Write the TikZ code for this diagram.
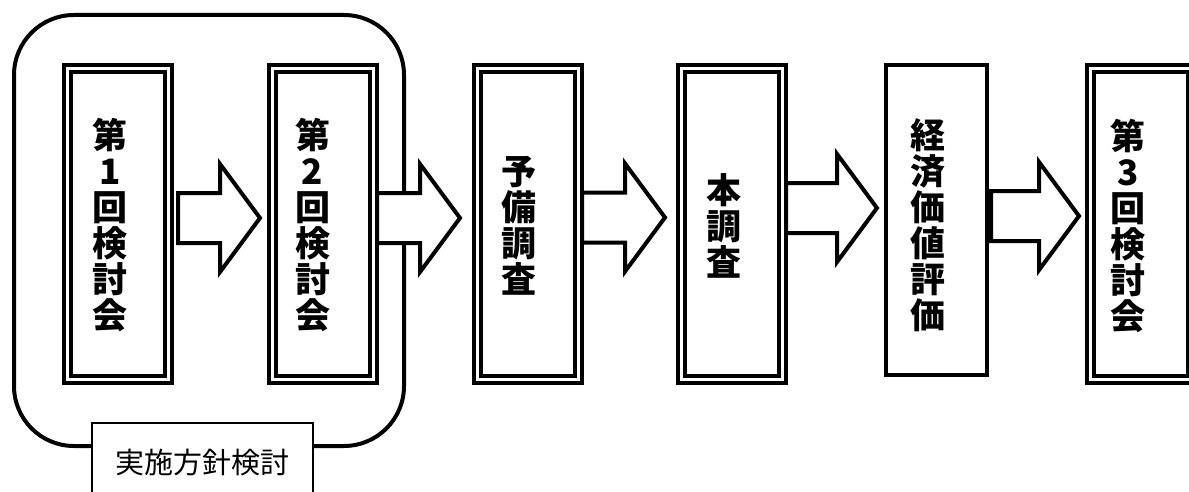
\documentclass[tikz,border=0pt]{standalone}
\usepackage{fontspec}
\newfontfamily\jp{Noto Sans CJK JP}
\usetikzlibrary{calc}
\tikzset{
 procbox/.style={draw, double, double distance=3pt, line width=4pt, minimum width=101pt, minimum height=311pt, outer sep=0pt, inner sep=0pt},
 plainbox/.style={draw, line width=4pt, minimum width=101pt, minimum height=310pt, outer sep=0pt, inner sep=0pt, fill=white},
 vtext/.style={font=\jp\bfseries\fontsize{35pt}{36pt}\selectfont, align=center, inner sep=0pt},
 barrow/.style={draw, line width=4pt, fill=white, line join=miter},
 grpbox/.style={draw, line width=4pt, rounded corners=60pt, minimum width=390pt, minimum height=431pt, outer sep=0pt, inner sep=0pt},
 capbox/.style={draw, line width=1.3pt, fill=white, minimum width=221pt, minimum height=79pt, inner sep=0pt, font=\jp\fontsize{29pt}{34pt}\selectfont}
}
\newcommand\flowarrow[5]{%
 \draw[barrow] ($(#1.east|-0,#3)+(#4,-25)$) -- ($(#2.west|-0,#3)+(-#5-40,-25)$) -- ++(0,-29)
   -- ($(#2.west|-0,#3)+(-#5,0)$) -- ($(#2.west|-0,#3)+(-#5-40,54)$) -- ++(0,-29)
   -- ($(#1.east|-0,#3)+(#4,25)$) -- cycle;}
\begin{document}
\begin{tikzpicture}[x=1pt,y=-1pt]
\useasboundingbox (0,0) rectangle (1189,492);
\clip (0,0) rectangle (1189,492);
\node[grpbox] (grp) at (209,230.5) {};
\node[procbox] (b1) at (118,224) {};
\node[procbox] (b2) at (322.5,224) {};
\node[procbox] (b3) at (527.5,224) {};
\node[procbox] (b4) at (731.5,224) {};
\node[plainbox] (b5) at (936.5,220) {};
\node[procbox] (b6) at (1141,224) {};
\node[vtext] (t1) at (110,225) {第\\1\\回\\検\\討\\会};
\node[vtext] (t2) at (312.5,225) {第\\2\\回\\検\\討\\会};
\node[vtext] (t3) at (519,226) {予\\備\\調\\査};
\node[vtext] (t4) at (723.5,225.5) {本\\調\\査};
\node[vtext] (t5) at (927.5,225) {経\\済\\価\\値\\評\\価};
\node[vtext] (t6) at (1128,226) {第\\3\\回\\検\\討\\会};
\flowarrow{b1}{b2}{218}{9.5}{12}
\flowarrow{b2}{b3}{218}{4}{17}
\flowarrow{b3}{b4}{217.5}{4}{16}
\flowarrow{b4}{b5}{208}{4}{9}
\flowarrow{b5}{b6}{216}{4}{11.5}
\node[capbox] (cap) at (202.5,462.5) {実施方針検討};
\end{tikzpicture}
\end{document}
